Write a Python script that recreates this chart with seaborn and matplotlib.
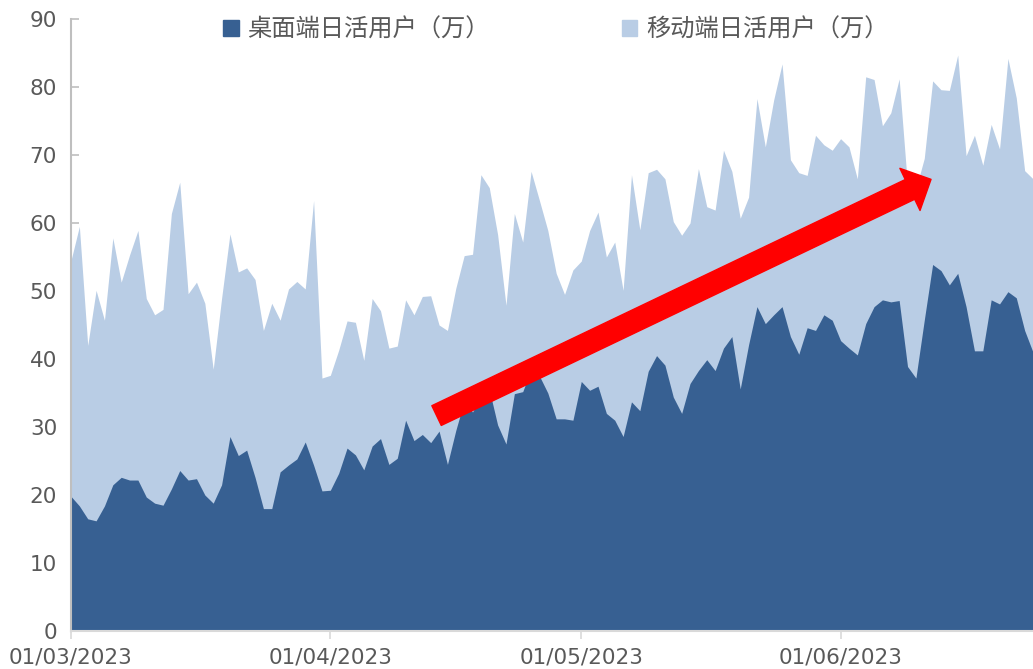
import matplotlib
matplotlib.use("Agg")
import matplotlib.pyplot as plt
import matplotlib.dates as mdates
from matplotlib.patches import Patch
import seaborn as sns
import pandas as pd

# daily values, 01/03/2023 .. 24/06/2023
dates = pd.date_range("2023-03-01", periods=116, freq="D")
desktop = [19.8, 18.4, 16.5, 16.2, 18.4, 21.5, 22.6, 22.2, 22.2, 19.7,
           18.8, 18.5, 20.9, 23.6, 22.2, 22.4, 20.0, 18.8, 21.5, 28.6,
           25.8, 26.6, 22.6, 18.0, 18.0, 23.4, 24.4, 25.3, 27.8, 24.4,
           20.6, 20.7, 23.2, 26.9, 25.9, 23.7, 27.2, 28.3, 24.5, 25.4,
           31.0, 28.0, 28.9, 27.7, 29.4, 24.5, 29.5, 33.8, 32.2, 34.5,
           35.5, 30.3, 27.5, 34.9, 35.2, 38.5, 37.5, 35.0, 31.2, 31.2,
           31.0, 36.7, 35.4, 36.0, 32.0, 31.0, 28.6, 33.7, 32.4, 38.2,
           40.5, 39.1, 34.4, 32.0, 36.4, 38.3, 39.9, 38.3, 41.6, 43.3,
           35.6, 42.1, 47.7, 45.2, 46.5, 47.7, 43.3, 40.7, 44.6, 44.2,
           46.5, 45.7, 42.7, 41.6, 40.6, 45.2, 47.7, 48.7, 48.4, 48.6,
           38.9, 37.2, 45.7, 53.9, 53.0, 50.9, 52.6, 47.7, 41.2, 41.2,
           48.7, 48.1, 49.9, 49.0, 44.2, 41.0]
# top of the stacked mobile area
mobile_top = [54.5, 59.5, 42.0, 50.1, 45.7, 57.8, 51.3, 55.3, 58.9, 48.9,
              46.5, 47.3, 61.4, 66.0, 49.6, 51.3, 48.2, 38.5, 48.9, 58.4,
              52.8, 53.4, 51.7, 44.2, 48.2, 45.7, 50.3, 51.4, 50.3, 63.3,
              37.2, 37.6, 41.3, 45.6, 45.4, 39.8, 48.9, 47.1, 41.6, 41.9,
              48.7, 46.5, 49.2, 49.3, 45.0, 44.2, 50.4, 55.2, 55.4, 67.1,
              65.2, 58.3, 47.9, 61.4, 57.2, 67.6, 63.3, 58.9, 52.6, 49.5,
              53.1, 54.4, 58.9, 61.6, 55.0, 57.2, 50.1, 67.1, 59.0, 67.4,
              67.9, 66.5, 60.2, 58.2, 60.0, 68.0, 62.4, 61.9, 70.7, 67.6,
              60.7, 63.8, 78.3, 71.2, 78.1, 83.4, 69.3, 67.4, 67.0, 72.9,
              71.5, 70.7, 72.4, 71.2, 66.5, 81.5, 81.1, 74.3, 76.2, 81.2,
              65.5, 65.0, 69.5, 80.9, 79.6, 79.5, 84.7, 69.9, 72.9, 68.5,
              74.5, 70.9, 84.2, 78.4, 67.7, 66.5]
labels = ["桌面端日活用户（万）", "移动端日活用户（万）"]

df = pd.DataFrame({"date": dates, "desktop": desktop, "mobile_top": mobile_top})

dark = "#376092"
light = "#B9CDE5"
grey = "#595959"

sns.set_theme(style="white")
plt.rcParams["font.family"] = ["Noto Sans CJK SC", "DejaVu Sans"]

fig = plt.figure(figsize=(10.33, 6.69), dpi=100)
ax = fig.add_axes([71 / 1033, 38 / 669, 962 / 1033, 612 / 669])

ax.fill_between(df["date"], 0, df["mobile_top"], color=light, linewidth=0)
ax.fill_between(df["date"], 0, df["desktop"], color=dark, linewidth=0)

ax.set_xlim(dates[0], dates[-1])
ax.set_ylim(0, 90)
ax.set_yticks(range(0, 91, 10))
ax.xaxis.set_major_locator(mdates.MonthLocator())
ax.xaxis.set_major_formatter(mdates.DateFormatter("%d/%m/%Y"))
ax.set_xlabel("")
ax.set_ylabel("")

for side in ["top", "right"]:
    ax.spines[side].set_visible(False)
ax.spines["left"].set_color("#BFBFBF")
ax.spines["bottom"].set_color("#D9D9D9")
ax.spines["left"].set_linewidth(1.5)
ax.spines["bottom"].set_linewidth(1.5)
ax.tick_params(axis="y", direction="in", length=6, width=1.2, color="#BFBFBF",
               labelsize=15.5, labelcolor=grey, pad=10, left=True)
ax.tick_params(axis="x", direction="out", length=6, width=1.2, color="#D9D9D9",
               labelsize=15.5, labelcolor=grey, pad=6, bottom=True)
for lab in ax.get_xticklabels() + ax.get_yticklabels():
    lab.set_fontfamily("DejaVu Sans")

# trend arrow
ax.annotate("", xy=(0.894, 0.738), xytext=(0.380, 0.352), xycoords="axes fraction",
            arrowprops=dict(arrowstyle="simple,head_length=1.6,head_width=3.2,tail_width=1.5",
                            color="red", mutation_scale=10.5, shrinkA=0, shrinkB=0))

handles = [Patch(facecolor=dark, edgecolor=dark), Patch(facecolor=light, edgecolor=light)]
ax.legend(handles, labels, loc="upper center", bbox_to_anchor=(0.504, 1.04), ncol=2,
          frameon=False, fontsize=17.5, labelcolor=grey, handlelength=0.63,
          handleheight=0.63, handletextpad=0.35, columnspacing=5.45)

fig.savefig("out.png", dpi=100)
